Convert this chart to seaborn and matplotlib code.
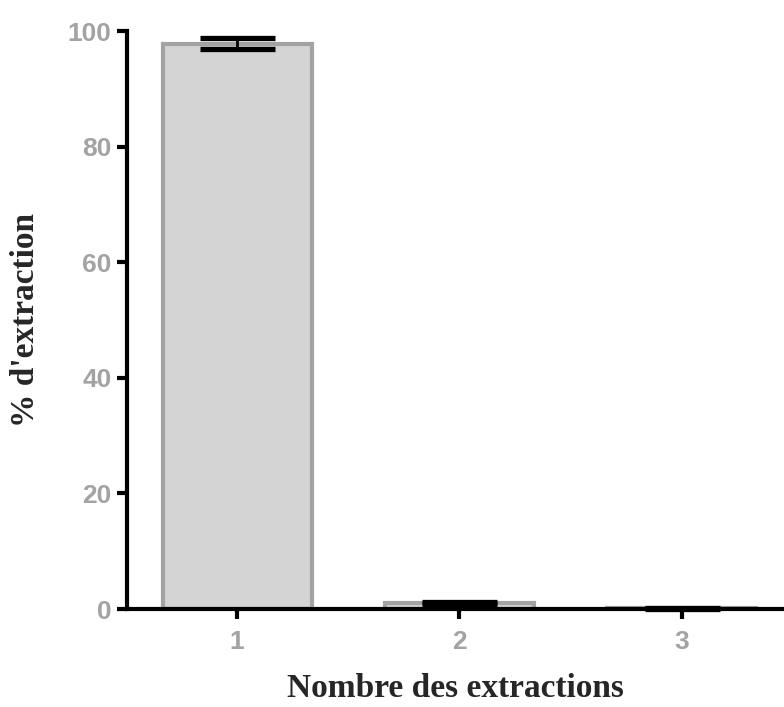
import matplotlib
matplotlib.use("Agg")
import matplotlib.pyplot as plt
import seaborn as sns
import pandas as pd

# values
extractions = ["1", "2", "3"]
pct_extraction = [97.8, 1.0, 0.15]
pct_error = [0.95, 0.2, 0.08]

df = pd.DataFrame({"extraction": extractions, "pct": pct_extraction})

sns.set_style("white")
fig = plt.figure(figsize=(7.84, 7.07), dpi=100)
ax = fig.add_axes([0.162, 0.1386, 0.838, 0.8175])

sns.barplot(data=df, x="extraction", y="pct", color="#d4d4d4", saturation=1,
            edgecolor="#a3a3a3", linewidth=3, width=0.67, errorbar=None, ax=ax)

ax.errorbar(range(len(extractions)), pct_extraction, yerr=pct_error, fmt="none",
            ecolor="black", elinewidth=2, capsize=27, capthick=3.8, clip_on=False,
            zorder=5)

ax.set_ylim(0, 100)
ax.set_xlim(-0.495, 2.46)
ax.set_yticks([0, 20, 40, 60, 80, 100])

for side in ["top", "right"]:
    ax.spines[side].set_visible(False)
for side in ["left", "bottom"]:
    ax.spines[side].set_linewidth(3)
    ax.spines[side].set_color("black")

ax.tick_params(axis="both", which="major", direction="out", length=7, width=3,
               color="black", labelcolor="#a3a3a3", labelsize=19, pad=4,
               bottom=True, left=True)
ax.tick_params(axis="x", pad=8)
for lab in ax.get_xticklabels() + ax.get_yticklabels():
    lab.set_fontweight("bold")
    lab.set_family("Liberation Sans")

ax.set_xlabel("Nombre des extractions", family="Liberation Serif", fontweight="bold",
              fontsize=24, labelpad=14)
ax.set_ylabel("% d'extraction", family="Liberation Serif", fontweight="bold",
              fontsize=24, labelpad=19)

fig.savefig("out.png", dpi=100)
